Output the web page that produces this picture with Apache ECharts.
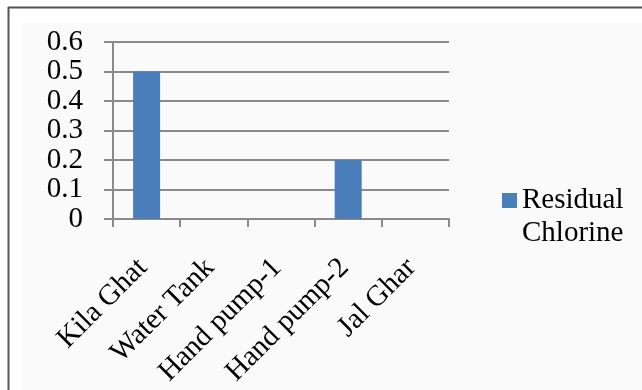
<!DOCTYPE html>
<html>
<head>
<meta charset="utf-8">
<script src="https://cdn.jsdelivr.net/npm/echarts@6/dist/echarts.min.js"></script>
<style>
  html, body { margin: 0; padding: 0; background: #ffffff; }
  #chart { width: 642px; height: 390px; }
</style>
</head>
<body>
<div id="chart"></div>
<script>
// Sampling sites and measured residual chlorine (mg/L)
const sites = ['Kila Ghat', 'Water Tank', 'Hand pump-1', 'Hand pump-2', 'Jal Ghar'];
const residualChlorine = [0.5, 0, 0, 0.2, 0];
const seriesName = 'Residual Chlorine';
const yTicks = { min: 0, max: 0.6, step: 0.1 };

const serif = '"Liberation Serif", "DejaVu Serif", serif';
const axisGray = '#8a8a8a';
const chart = echarts.init(document.getElementById('chart'));

chart.setOption({
  animation: false,
  backgroundColor: '#ffffff',
  graphic: [
    // panel fill
    { type: 'rect', z: -10, shape: { x: 22, y: 23, width: 620, height: 367 }, style: { fill: '#fafafa' } },
    // frame lines
    { type: 'line', z: -5, shape: { x1: 8, y1: 7.5, x2: 642, y2: 7.5 }, style: { stroke: '#555555', lineWidth: 2 } },
    { type: 'line', z: -5, shape: { x1: 8.5, y1: 7, x2: 8.5, y2: 390 }, style: { stroke: '#555555', lineWidth: 2 } }
  ],
  grid: { left: 113, top: 42, right: 193, bottom: 171, containLabel: false },
  legend: {
    left: 497,
    top: 146,
    orient: 'vertical',
    itemWidth: 15,
    itemHeight: 15,
    itemGap: 0,
    icon: 'rect',
    // leading blank line keeps the swatch level with the first line of the name
    formatter: name => '\n' + name.replace(' ', '\n'),
    textStyle: { fontFamily: serif, fontSize: 29, color: '#000', lineHeight: 33 },
    data: [seriesName]
  },
  xAxis: {
    type: 'category',
    data: sites,
    axisLine: { lineStyle: { color: axisGray, width: 2 } },
    axisTick: { show: true, length: 8, lineStyle: { color: axisGray, width: 2 } },
    axisLabel: {
      rotate: 45,
      interval: 0,
      margin: 20,
      align: 'right',
      verticalAlign: 'top',
      padding: [0, 20, 0, 0],
      fontFamily: serif,
      fontSize: 29,
      color: '#000'
    }
  },
  yAxis: {
    type: 'value',
    min: yTicks.min,
    max: yTicks.max,
    interval: yTicks.step,
    axisLine: { show: true, lineStyle: { color: axisGray, width: 2 } },
    axisTick: { show: true, inside: false, length: 9, lineStyle: { color: axisGray, width: 2 } },
    splitLine: { lineStyle: { color: axisGray, width: 2 } },
    axisLabel: {
      margin: 30,
      fontFamily: serif,
      fontSize: 29,
      color: '#000',
      formatter: v => (v === 0 ? '0' : v.toFixed(1))
    }
  },
  series: [
    {
      name: seriesName,
      type: 'bar',
      data: residualChlorine,
      barWidth: 27,
      itemStyle: { color: '#4a7ebb' }
    }
  ]
});
</script>
</body>
</html>
